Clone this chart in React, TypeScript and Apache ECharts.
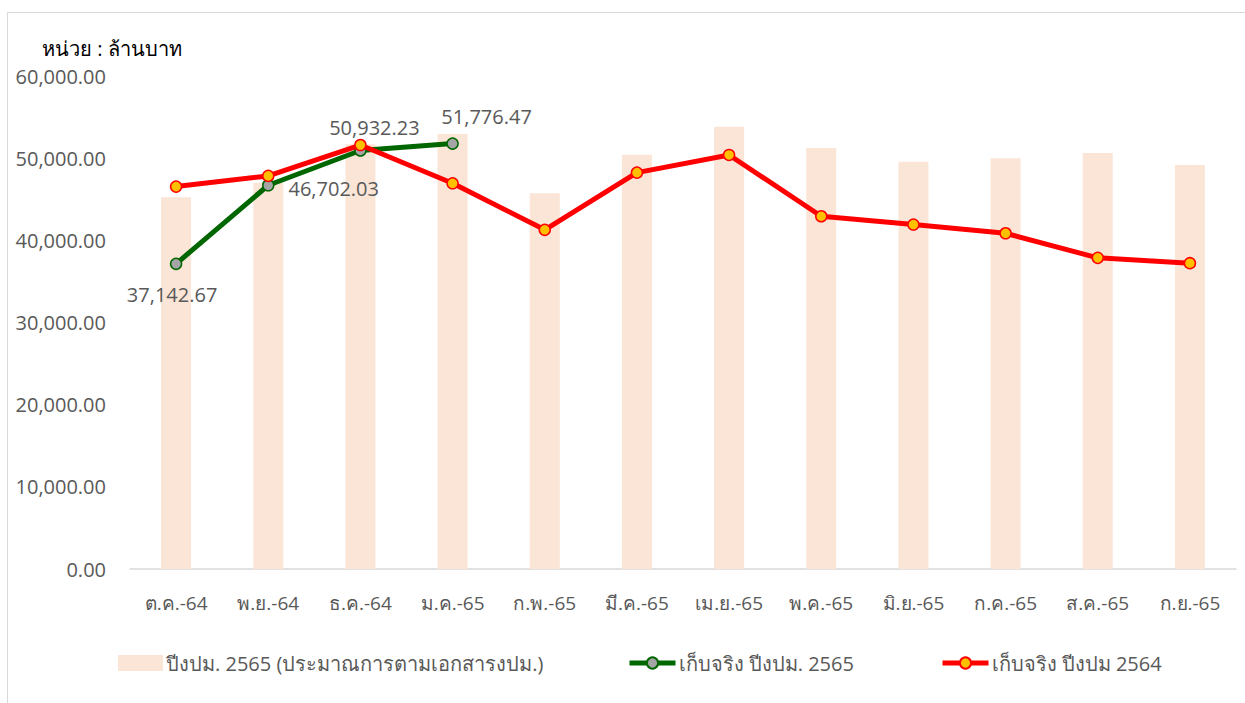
import React, { useEffect, useRef } from "react";
import * as echarts from "echarts";

const categories = ["ต.ค.-64", "พ.ย.-64", "ธ.ค.-64", "ม.ค.-65", "ก.พ.-65", "มี.ค.-65", "เม.ย.-65", "พ.ค.-65", "มิ.ย.-65", "ก.ค.-65", "ส.ค.-65", "ก.ย.-65"];
const estimate2565 = [45240, 47000, 51700, 52940, 45720, 50420, 53830, 51240, 49570, 49980, 50630, 49170];
const actual2565 = [37142.67, 46702.03, 50932.23, 51776.47];
const actual2564 = [46540, 47840, 51600, 46940, 41280, 48240, 50390, 42930, 41920, 40860, 37870, 37220];
const yTicks = { min: 0, max: 60000, interval: 10000 };

const seriesNames = ["ปีงปม. 2565 (ประมาณการตามเอกสารงปม.)", "เก็บจริง ปีงปม. 2565", "เก็บจริง ปีงปม 2564"];

const FONT = '"Open Sans", "Noto Sans", sans-serif';
const fmt = (v: number) => v.toLocaleString("en-US", { minimumFractionDigits: 2, maximumFractionDigits: 2 });

export default function App() {
  const ref = useRef<HTMLDivElement>(null);
  useEffect(() => {
    if (!ref.current) return;
    const chart = echarts.init(ref.current, null, { renderer: "svg" });
    const labelPos: any[] = [
      { position: "bottom", distance: 14, offset: [-4, 0] },
      { position: "right", distance: 10, offset: [4, 3] },
      { position: "top", distance: 7, offset: [14, 0] },
      { position: "top", distance: 11, offset: [34, 0] },
    ];
    const legendText = { color: "#595959", fontSize: 20, fontFamily: FONT, padding: [0, 0, 0, -2] };
    chart.setOption({
      animation: false,
      textStyle: { fontFamily: FONT },
      graphic: [
        { type: "rect", shape: { x: 7.5, y: 12.5, width: 1400, height: 900 }, style: { fill: "none", stroke: "#d9d9d9", lineWidth: 1 }, silent: true },
        { type: "text", left: 42, top: 38, style: { text: "หน่วย : ล้านบาท", fontSize: 20, fill: "#000000", fontFamily: FONT } },
      ],
      grid: { left: 130, right: 9, top: 76, bottom: 134, containLabel: false },
      xAxis: {
        type: "category",
        data: categories,
        axisLine: { lineStyle: { color: "#d9d9d9", width: 1.5 } },
        axisTick: { show: false },
        axisLabel: { color: "#595959", fontSize: 19, margin: 24, interval: 0, hideOverlap: false, fontFamily: FONT },
      },
      yAxis: {
        type: "value",
        min: yTicks.min,
        max: yTicks.max,
        interval: yTicks.interval,
        splitLine: { show: false },
        axisLine: { show: false },
        axisTick: { show: false },
        axisLabel: { color: "#595959", fontSize: 20, margin: 24, formatter: (v: number) => fmt(v), fontFamily: FONT },
      },
      legend: [
        { data: [{ name: seriesNames[0], icon: "rect" }], left: 113, top: 648, itemWidth: 45, itemHeight: 16, itemGap: 4, textStyle: legendText },
        { data: [seriesNames[1]], left: 622, top: 648, itemWidth: 46, itemHeight: 14, lineStyle: { width: 5 }, textStyle: legendText },
        { data: [seriesNames[2]], left: 935, top: 648, itemWidth: 46, itemHeight: 14, lineStyle: { width: 5 }, textStyle: legendText },
      ],
      series: [
        {
          name: seriesNames[0],
          type: "bar",
          data: estimate2565,
          barWidth: 30,
          itemStyle: { color: "#FBE5D6" },
          z: 1,
        },
        {
          name: seriesNames[1],
          type: "line",
          data: actual2565.map((v, i) => ({ value: v, label: { show: true, ...labelPos[i] } })),
          symbol: "circle",
          symbolSize: 11,
          lineStyle: { color: "#006600", width: 5 },
          itemStyle: { color: "#A5A5A5", borderColor: "#006600", borderWidth: 1.5 },
          label: { color: "#595959", fontSize: 20, formatter: (p: any) => fmt(p.value), fontFamily: FONT },
          z: 3,
        },
        {
          name: seriesNames[2],
          type: "line",
          data: actual2564,
          symbol: "circle",
          symbolSize: 11,
          lineStyle: { color: "#FF0000", width: 5 },
          itemStyle: { color: "#FFC000", borderColor: "#FF0000", borderWidth: 1.5 },
          z: 4,
        },
      ],
    });
    return () => chart.dispose();
  }, []);
  return <div ref={ref} style={{ position: "fixed", left: 0, top: 0, width: 1245, height: 703, background: "#ffffff" }} />;
}
